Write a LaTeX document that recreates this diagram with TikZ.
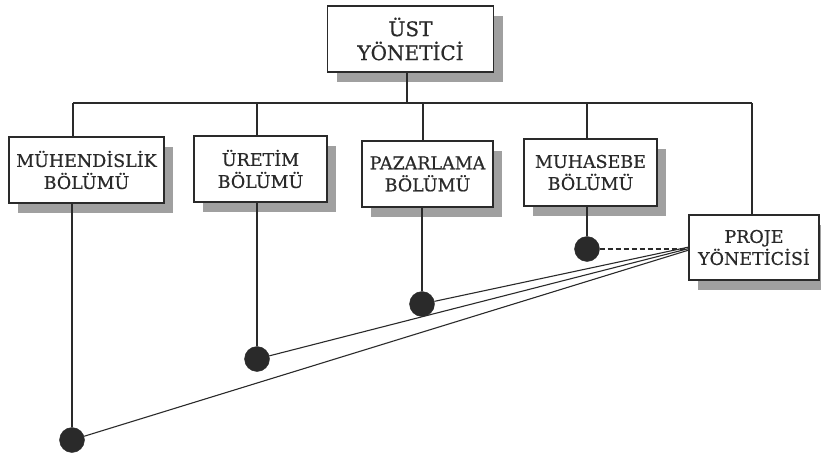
\documentclass[tikz,border=0pt]{standalone}
\usepackage{fontspec}
\setmainfont{DejaVu Serif}
\newfontfamily\boxfont{DejaVu Serif}[FakeBold=0.6]
\usetikzlibrary{shadows}
\definecolor{ink}{HTML}{2A2A2A}
\definecolor{shade}{HTML}{A0A0A0}
\begin{document}
\begin{tikzpicture}[x=1pt,y=-1pt,
  box/.style={draw=ink, line width=1.1pt, fill=white, rectangle, align=center,
    text=ink, inner sep=0pt,
    general shadow={fill=shade, shadow xshift=9pt, shadow yshift=-10pt},
    font=\boxfont\fontsize{17.5}{22}\selectfont},
  topbox/.style={box, font=\boxfont\fontsize{20}{24}\selectfont},
  link/.style={draw=ink, line width=1.1pt},
  dot/.style={circle, fill=ink, draw=ink, inner sep=0pt, minimum size=25pt}]
\useasboundingbox (0,0) rectangle (821,465);
% boxes
\node[topbox, minimum width=166pt, minimum height=66pt] (top) at (410.5,39) {ÜST\\YÖNETİCİ};
\node[box, minimum width=155pt, minimum height=66pt] (b1) at (86.5,170) {MÜHENDİSLİK\\BÖLÜMÜ};
\node[box, minimum width=133pt, minimum height=66pt] (b2) at (260.5,169) {ÜRETİM\\BÖLÜMÜ};
\node[box, minimum width=131pt, minimum height=66pt] (b3) at (427.5,174) {PAZARLAMA\\BÖLÜMÜ};
\node[box, minimum width=133pt, minimum height=67pt] (b4) at (590.5,172.5) {MUHASEBE\\BÖLÜMÜ};
\node[box, minimum width=130pt, minimum height=65pt] (b5) at (754,247.5) {PROJE\\YÖNETİCİSİ};
% bus coordinates
\coordinate (s0) at (407,103);
\coordinate (s1) at (73,103);
\coordinate (s2) at (257,103);
\coordinate (s3) at (423,103);
\coordinate (s4) at (587,103);
\coordinate (s5) at (752,103);
% dots
\node[dot] (d1) at (72,440) {};
\node[dot] (d2) at (257,359) {};
\node[dot] (d3) at (422,304) {};
\node[dot] (d4) at (587,249) {};
\coordinate (p1) at (689,247);
\coordinate (p2) at (689,248.5);
\coordinate (p3) at (689,250);
% connectors
\draw[link] (top.south -| s0) -- (s0);
\draw[link] (s1) -- (s5);
\draw[link] (s1) -- (s1 |- b1.north);
\draw[link] (s2) -- (s2 |- b2.north);
\draw[link] (s3) -- (s3 |- b3.north);
\draw[link] (s4) -- (s4 |- b4.north);
\draw[link] (s5) -- (s5 |- b5.north);
\draw[link] (d1 |- b1.south) -- (d1);
\draw[link] (d2 |- b2.south) -- (d2);
\draw[link] (d3 |- b3.south) -- (d3);
\draw[link] (d4 |- b4.south) -- (d4);
\draw[link, dashed, dash pattern=on 5pt off 3pt] (d4) -- (d4 -| b5.west);
\draw[link] (d3) -- (p1);
\draw[link] (d2) -- (p2);
\draw[link] (d1) -- (p3);
\end{tikzpicture}
\end{document}
